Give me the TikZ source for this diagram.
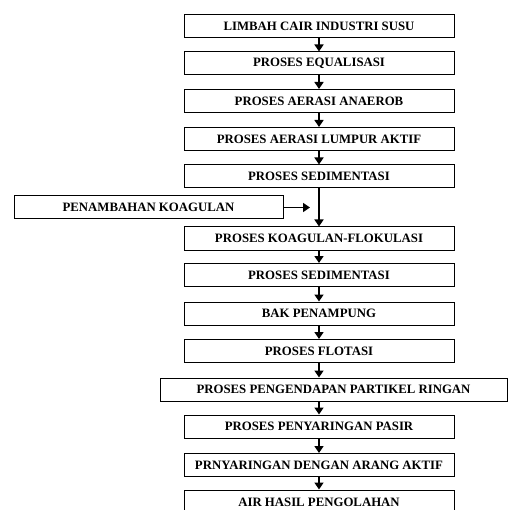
\documentclass[tikz,border=0pt]{standalone}
\usepackage{fontspec}
\setmainfont{Liberation Serif}
\usetikzlibrary{arrows.meta}
\begin{document}
\begin{tikzpicture}[x=1pt,y=-1pt,
  boxst/.style={draw, line width=1pt, minimum height=23pt, minimum width=270pt, inner sep=0pt, font=\bfseries\fontsize{12.8}{14}\selectfont},
  arr/.style={-{Triangle[width=9pt,length=7pt]}, line width=1.5pt}]
\useasboundingbox (0,0) rectangle (508,510);
\node[boxst] (b1) at (319,26) {LIMBAH CAIR INDUSTRI SUSU};
\node[boxst] (b2) at (319,63.5) {PROSES EQUALISASI};
\node[boxst] (b3) at (319,101) {PROSES AERASI ANAEROB};
\node[boxst] (b4) at (319,139) {PROSES AERASI LUMPUR AKTIF};
\node[boxst] (b5) at (319,176.5) {PROSES SEDIMENTASI};
\node[boxst, minimum width=269pt] (kb) at (148.5,207.5) {PENAMBAHAN KOAGULAN};
\node[boxst] (b6) at (319,238.5) {PROSES KOAGULAN-FLOKULASI};
\node[boxst] (b7) at (319,275) {PROSES SEDIMENTASI};
\node[boxst] (b8) at (319,313.5) {BAK PENAMPUNG};
\node[boxst] (b9) at (319,351) {PROSES FLOTASI};
\node[boxst, minimum width=347pt] (b10) at (333.5,389.5) {PROSES PENGENDAPAN PARTIKEL RINGAN};
\node[boxst] (b11) at (319,426.5) {PROSES PENYARINGAN PASIR};
\node[boxst] (b12) at (319,465) {PRNYARINGAN DENGAN ARANG AKTIF};
\node[boxst, minimum height=24pt] (b13) at (319,502) {AIR HASIL PENGOLAHAN};
\coordinate (kend) at (310,207.5);
\draw[arr] (b1) -- (b2);
\draw[arr] (b2) -- (b3);
\draw[arr] (b3) -- (b4);
\draw[arr] (b4) -- (b5);
\draw[arr] (b5) -- (b6);
\draw[arr] (kb) -- (kend);
\draw[arr] (b6) -- (b7);
\draw[arr] (b7) -- (b8);
\draw[arr] (b8) -- (b9);
\draw[arr] (b9.south) -- (b9.south |- b10.north);
\draw[arr] (b9.south |- b10.south) -- (b11.north);
\draw[arr] (b11) -- (b12);
\draw[arr] (b12) -- (b13);
\end{tikzpicture}
\end{document}
